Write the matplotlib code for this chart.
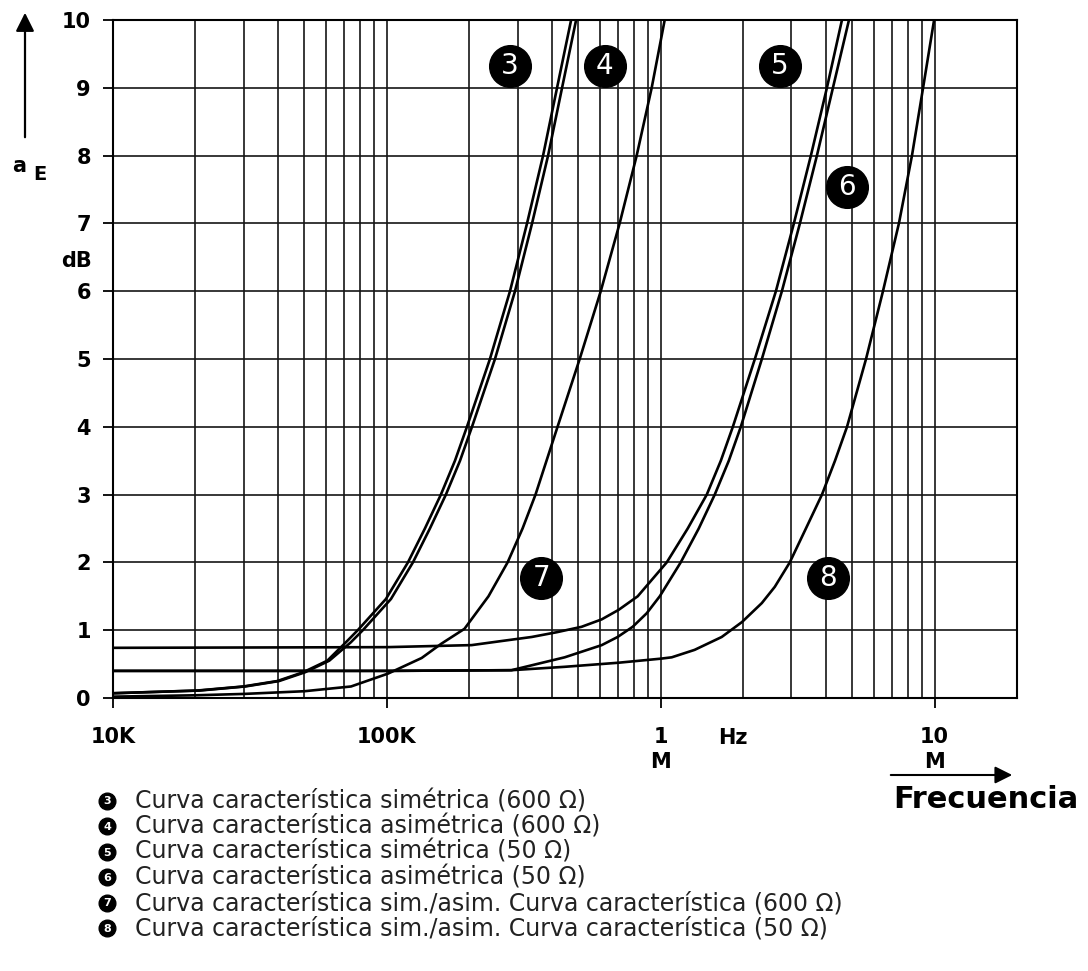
import matplotlib
matplotlib.use('Agg')
import matplotlib.pyplot as plt
from matplotlib.ticker import FixedLocator, NullFormatter

plt.rcParams['font.family'] = 'DejaVu Sans'

# frequencies in kHz, attenuation a_E in dB
db_34 = [0.07, 0.11, 0.17, 0.25, 0.38, 0.55, 0.82, 1.0, 1.46, 2.0, 2.5, 3.0,
         3.5, 4.0, 5.0, 6.0, 7.0, 8.0, 9.0, 10.0]
f_3 = [10, 20.3, 29.9, 39.8, 49.5, 60.6, 70.8, 78.3, 99.2, 119.4, 137.7,
       157.5, 177.3, 196.1, 237.9, 281.6, 325.0, 371.9, 418.3, 470.8]
f_4 = [10, 20.7, 30.4, 40.4, 50.3, 61.6, 73.8, 81.7, 103.5, 124.5, 143.6,
       164.3, 185.0, 204.6, 248.2, 293.7, 339.0, 387.9, 436.3, 491.0]

f_5 = [10, 100, 204, 262, 338, 417, 514, 609, 702, 824, 1052, 1255, 1473,
       1658, 1834, 2207, 2634, 3064, 3535, 4045, 4590]
db_5 = [0.74, 0.75, 0.78, 0.84, 0.9, 0.97, 1.05, 1.16, 1.3, 1.5, 2.0, 2.5,
        3.0, 3.5, 4.0, 5.0, 6.0, 7.0, 8.0, 9.0, 10.0]

f_6 = [10, 100, 285, 446, 609, 696, 790, 889, 992, 1183, 1377, 1575, 1773,
       1961, 2341, 2770, 3223, 3719, 4255, 4869]
db_6 = [0.4, 0.4, 0.41, 0.6, 0.78, 0.9, 1.05, 1.25, 1.5, 2.0, 2.5, 3.0, 3.5,
        4.0, 5.0, 6.0, 7.0, 8.0, 9.0, 10.0]

f_7 = [10, 20, 30, 50, 74, 101, 134, 158, 192, 235, 276, 313, 349, 420,
       506, 604, 708, 817, 927, 1034]
db_7 = [0.02, 0.04, 0.06, 0.1, 0.17, 0.36, 0.59, 0.8, 1.02, 1.5, 2.0, 2.5,
        3.0, 4.0, 5.0, 6.0, 7.0, 8.0, 9.0, 10.0]

f_8 = [10, 100, 285, 446, 700, 1000, 1097, 1330, 1670, 1980, 2340, 2610,
       2960, 3390, 3880, 4330, 4790, 5620, 6480, 7410, 8270, 9080, 9960]
db_8 = [0.4, 0.4, 0.41, 0.46, 0.52, 0.58, 0.6, 0.71, 0.9, 1.12, 1.4, 1.64,
        2.0, 2.5, 3.0, 3.5, 4.0, 5.0, 6.0, 7.0, 8.0, 9.0, 10.0]

curve_ids = ['3', '4', '5', '6', '7', '8']
legend_labels = [
    'Curva característica simétrica (600 Ω)',
    'Curva característica asimétrica (600 Ω)',
    'Curva característica simétrica (50 Ω)',
    'Curva característica asimétrica (50 Ω)',
    'Curva característica sim./asim. Curva característica (600 Ω)',
    'Curva característica sim./asim. Curva característica (50 Ω)',
]
x_ticks = [1e4, 1e5, 1e6, 1e7]
x_tick_labels = ['10K', '100K', '1\nM', '10\nM']
y_ticks = list(range(0, 11))

W, H = 1088, 971
fig = plt.figure(figsize=(W / 100, H / 100), dpi=100)
ax = fig.add_axes([113 / W, 1 - 698 / H, (1017 - 113) / W, (698 - 20) / H])

ax.set_xscale('log')
ax.set_xlim(1e4, 2e7)
ax.set_ylim(0, 10)
ax.set_xticks(x_ticks)
ax.set_xticklabels(x_tick_labels)
ax.set_yticks(y_ticks)
minor = [m * 10 ** e for e in (4, 5, 6) for m in range(2, 10)]
ax.xaxis.set_minor_locator(FixedLocator(minor))
ax.xaxis.set_minor_formatter(NullFormatter())
ax.tick_params(axis='x', which='minor', length=0)
ax.tick_params(axis='x', which='major', length=7, width=1.3, pad=14)
ax.tick_params(axis='y', length=7, width=1.3, pad=9)
ax.grid(True, which='both', color='#151515', lw=1.2)
ax.set_axisbelow(True)
for s in ax.spines.values():
    s.set_linewidth(1.5)
for lbl in ax.get_xticklabels() + ax.get_yticklabels():
    lbl.set_fontweight('bold')
    lbl.set_fontsize(15)
    lbl.set_linespacing(1.3)

# curves in Hz
for f, db in [(f_3, db_34), (f_4, db_34), (f_5, db_5), (f_6, db_6),
              (f_7, db_7), (f_8, db_8)]:
    ax.plot([v * 1e3 for v in f], db, color='black', lw=1.9,
            solid_capstyle='round', solid_joinstyle='round')

# circled numbers on the curves
label_pos = [(2.81e5, 9.32), (6.24e5, 9.32), (2.72e6, 9.32),
             (4.79e6, 7.54), (3.67e5, 1.77), (4.08e6, 1.77)]
for num, (x, y) in zip(curve_ids, label_pos):
    ax.plot(x, y, 'o', ms=30, color='black', zorder=5)
    ax.text(x, y, num, color='white', fontsize=20, ha='center',
            va='center', zorder=6)

# overlay in pixel coordinates for the surrounding annotations
ov = fig.add_axes([0, 0, 1, 1], zorder=10)
ov.set_xlim(0, W)
ov.set_ylim(H, 0)
ov.axis('off')
ov.patch.set_visible(False)

ov.annotate('', xy=(25, 10), xytext=(25, 140),
            arrowprops=dict(arrowstyle='-|>', lw=1.6, color='black',
                            mutation_scale=28))
ov.text(19, 166, 'a', fontsize=15, fontweight='bold', ha='center', va='center')
ov.text(40, 174, 'E', fontsize=14, fontweight='bold', ha='center', va='center')
ov.text(77, 261, 'dB', fontsize=15, fontweight='bold', ha='center', va='center')
ov.text(733, 738, 'Hz', fontsize=15, fontweight='bold', ha='center', va='center')

ov.annotate('', xy=(1015, 775), xytext=(888, 775),
            arrowprops=dict(arrowstyle='-|>', lw=1.5, color='black',
                            mutation_scale=26))
ov.text(986, 800, 'Frecuencia', fontsize=22, fontweight='bold',
        ha='center', va='center')

for i, (num, lbl) in enumerate(zip(curve_ids, legend_labels)):
    y = 801 + i * 25.5
    ov.plot(107, y, 'o', ms=12, color='black')
    ov.text(107, y + 0.5, num, color='white', fontsize=8, fontweight='bold',
            ha='center', va='center')
    ov.text(135, y, lbl, fontsize=17, color='#222222', va='center')

fig.savefig('out.png', dpi=100)
